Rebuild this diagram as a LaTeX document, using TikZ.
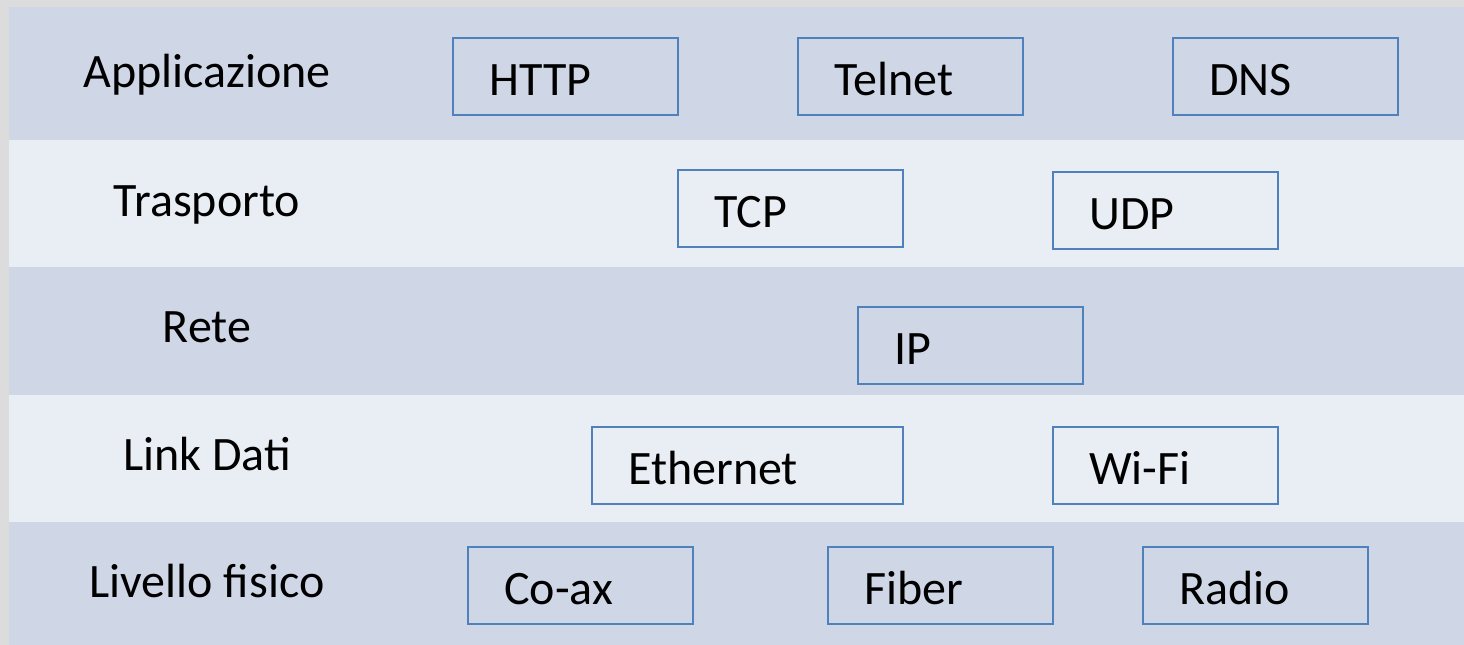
\documentclass[tikz,border=0pt]{standalone}
\usepackage{fontspec}
\setmainfont{Carlito}
\definecolor{frame}{RGB}{220,220,220}
\definecolor{banddark}{RGB}{207,214,230}
\definecolor{bandlight}{RGB}{233,237,244}
\definecolor{boxline}{RGB}{79,129,189}
\tikzset{
  layerlabel/.style={anchor=base, inner sep=0pt, font=\fontsize{48}{56}\selectfont},
  protobox/.style={draw=boxline, line width=2pt, minimum width=225pt, minimum height=77pt,
    anchor=north west, inner sep=0pt, outer sep=0pt},
  prototext/.style={anchor=base west, inner sep=0pt, font=\fontsize{48}{56}\selectfont},
}
% \proto{name}{x}{y}{width}{text}: a protocol box with its name set inside
\newcommand{\proto}[5]{%
  \node[protobox, minimum width=#4pt] (#1) at (#2,#3) {};
  \node[prototext] (#1-t) at ([xshift=36pt,yshift=-57pt]#1.north west) {#5};
}
\begin{document}
\begin{tikzpicture}[x=1pt,y=-1pt]
  \useasboundingbox (0,0) rectangle (1464,645);
  \fill[frame] (0,0) rectangle (1464,645);
  % layer bands
  \fill[banddark]  (9,7)   rectangle (1464,140);
  \fill[bandlight] (9,140) rectangle (1464,267);
  \fill[banddark]  (9,267) rectangle (1464,395);
  \fill[bandlight] (9,395) rectangle (1464,522);
  \fill[banddark]  (9,522) rectangle (1464,645);
  % layer names
  \node[layerlabel] (app)  at (207,87)  {Applicazione};
  \node[layerlabel] (tra)  at (207,216) {Trasporto};
  \node[layerlabel] (net)  at (207,342) {Rete};
  \node[layerlabel] (link) at (207,470) {Link Dati};
  \node[layerlabel] (phy)  at (207,597) {Livello fisico};
  % protocols
  \proto{http}{453}{38}{225}{HTTP}
  \proto{telnet}{798}{38}{225}{Telnet}
  \proto{dns}{1173}{38}{225}{DNS}
  \proto{tcp}{678}{170}{225}{TCP}
  \proto{udp}{1053}{172}{225}{UDP}
  \proto{ip}{858}{307}{225}{IP}
  \proto{eth}{592}{427}{311}{Ethernet}
  \proto{wifi}{1053}{427}{225}{Wi-Fi}
  \proto{coax}{468}{547}{225}{Co-ax}
  \proto{fiber}{828}{547}{225}{Fiber}
  \proto{radio}{1143}{547}{225}{Radio}
\end{tikzpicture}
\end{document}
